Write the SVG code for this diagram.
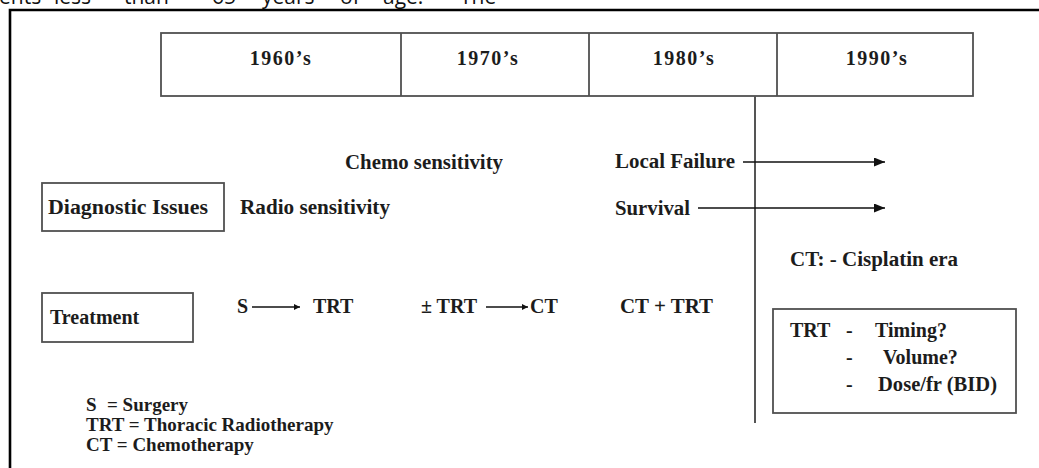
<svg xmlns="http://www.w3.org/2000/svg" width="1039" height="468" viewBox="0 0 1039 468">
<style>
.t{font-family:"Liberation Serif","Times New Roman",serif;font-weight:bold;font-size:20px;fill:#1c1c1c}
.lg{font-family:"Liberation Serif","Times New Roman",serif;font-weight:bold;font-size:19px;fill:#1c1c1c}
.yr{font-family:"Liberation Serif","Times New Roman",serif;font-weight:bold;font-size:20px;fill:#1c1c1c;text-anchor:middle;letter-spacing:1.5px}
.top{font-family:"Open Sans","Liberation Sans",sans-serif;font-size:21px;fill:#111}
.box{fill:#fff;stroke:#505050;stroke-width:1.8}
.ln{stroke:#111;stroke-width:1.6;fill:none}
</style>
<defs>
<marker id="ah" viewBox="0 0 10 10" refX="10" refY="5" markerWidth="6" markerHeight="6" orient="auto" markerUnits="userSpaceOnUse">
<path d="M0,0 L10,5 L0,10 z" fill="#111"/>
</marker>
<marker id="ahb" viewBox="0 0 10 10" refX="10" refY="5" markerWidth="11" markerHeight="9" orient="auto" markerUnits="userSpaceOnUse" preserveAspectRatio="none">
<path d="M0,0 L10,5 L0,10 z" fill="#111"/>
</marker>
</defs>
<rect width="1039" height="468" fill="#fff"/>
<g id="page-text">
<text class="top" y="4"><tspan x="-1">ents</tspan><tspan x="54">less</tspan><tspan x="124">than</tspan><tspan x="212">65</tspan><tspan x="262">years</tspan><tspan x="340">of</tspan><tspan x="383">age.</tspan><tspan x="460">The</tspan></text>
</g>
<g id="frame">
<path d="M10,468 V10 H1039" fill="none" stroke="#000" stroke-width="2.6"/>
</g>
<g id="timeline">
<rect class="box" x="161" y="33" width="812" height="63"/>
<line x1="401" y1="33" x2="401" y2="96" stroke="#505050" stroke-width="1.8"/>
<line x1="589" y1="33" x2="589" y2="96" stroke="#505050" stroke-width="1.8"/>
<line x1="777" y1="33" x2="777" y2="96" stroke="#505050" stroke-width="1.8"/>
<text class="yr" x="281" y="65">1960’s</text>
<text class="yr" x="488" y="65">1970’s</text>
<text class="yr" x="684" y="65">1980’s</text>
<text class="yr" x="877" y="65">1990’s</text>
</g>
<g id="divider">
<line x1="755" y1="96" x2="755" y2="423" stroke="#555" stroke-width="2"/>
</g>
<g id="diagnostic">
<rect class="box" x="42" y="183" width="182" height="48"/>
<text class="t" x="48" y="214" textLength="160" lengthAdjust="spacingAndGlyphs">Diagnostic Issues</text>
</g>
<g id="radio"><text class="t" x="240" y="214" textLength="150" lengthAdjust="spacingAndGlyphs">Radio sensitivity</text></g>
<g id="chemo"><text class="t" x="345" y="169" textLength="158" lengthAdjust="spacingAndGlyphs">Chemo sensitivity</text></g>
<g id="local"><text class="t" x="615" y="168" textLength="120" lengthAdjust="spacingAndGlyphs">Local Failure</text></g>
<g id="survival"><text class="t" x="615" y="215" textLength="75" lengthAdjust="spacingAndGlyphs">Survival</text></g>
<g id="cisplatin"><text class="t" x="790" y="266" textLength="168" lengthAdjust="spacingAndGlyphs">CT: - Cisplatin era</text></g>
<g id="treatment">
<rect class="box" x="42" y="293" width="151" height="49"/>
<text class="t" x="50" y="324">Treatment</text>
</g>
<g id="s-trt">
<text class="t" x="237" y="313">S</text>
<text class="t" x="313" y="313">TRT</text>
</g>
<g id="pm-trt-ct">
<text class="t" x="421" y="313">± TRT</text>
<text class="t" x="530" y="313">CT</text>
</g>
<g id="ct-trt"><text class="t" x="620" y="313" textLength="93" lengthAdjust="spacingAndGlyphs">CT + TRT</text></g>
<g id="legend">
<text class="lg" x="86" y="411">S</text>
<text class="lg" x="107" y="411">= Surgery</text>
<text class="lg" x="86" y="431">TRT = Thoracic Radiotherapy</text>
<text class="lg" x="86" y="451">CT = Chemotherapy</text>
</g>
<g id="trt-questions">
<rect class="box" x="773" y="309" width="243" height="104"/>
<text class="t" x="790" y="337">TRT</text>
<text class="t" x="846" y="337">-</text>
<text class="t" x="875" y="337">Timing?</text>
<text class="t" x="846" y="364">-</text>
<text class="t" x="883" y="364">Volume?</text>
<text class="t" x="846" y="391">-</text>
<text class="t" x="878" y="391" textLength="119" lengthAdjust="spacingAndGlyphs">Dose/fr (BID)</text>
</g>
<g id="connectors">
<line class="ln" x1="743" y1="162" x2="885" y2="162" marker-end="url(#ahb)"/>
<line class="ln" x1="698" y1="208" x2="885" y2="208" marker-end="url(#ahb)"/>
<line class="ln" x1="252" y1="307" x2="300" y2="307" marker-end="url(#ah)"/>
<line class="ln" x1="486" y1="307" x2="528" y2="307" marker-end="url(#ah)"/>
</g>
</svg>
